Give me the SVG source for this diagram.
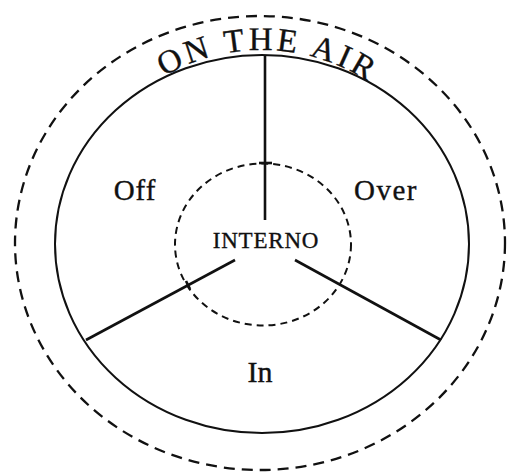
<svg xmlns="http://www.w3.org/2000/svg" width="507" height="473" viewBox="0 0 507 473">
<style>
.lbl{font-family:"Liberation Serif","Times New Roman",serif;fill:#111;stroke:#111;stroke-width:0.35;text-anchor:middle}
.solid{fill:none;stroke:#111;stroke-width:2}
.line{fill:none;stroke:#111;stroke-width:2.6;stroke-linecap:butt}
.dashO{fill:none;stroke:#111;stroke-width:2.3;stroke-dasharray:11 7}
.dashI{fill:none;stroke:#111;stroke-width:2;stroke-dasharray:7 5}
</style>
<defs>
<path id="arc" d="M 68 244 A 194 194 0 0 1 456 244"/>
</defs>
<rect width="507" height="473" fill="#fff"/>
<g id="on-the-air">
<ellipse class="dashO" cx="260" cy="243" rx="245" ry="227"/>
<text class="lbl" font-size="33" letter-spacing="3.5"><textPath href="#arc" startOffset="51%">ON THE AIR</textPath></text>
</g>
<g id="circle-main">
<ellipse class="solid" cx="262" cy="244" rx="207" ry="189"/>
</g>
<g id="interno">
<ellipse class="dashI" cx="263" cy="244.5" rx="88" ry="81"/>
<text class="lbl" x="266" y="248" font-size="23" letter-spacing="0.8">INTERNO</text>
</g>
<g id="connectors">
<line class="line" x1="265" y1="55" x2="265" y2="220"/>
<line class="line" x1="235" y1="260" x2="86" y2="340"/>
<line class="line" x1="295" y1="260" x2="441" y2="340"/>
<line class="line" x1="259" y1="163" x2="272" y2="163"/>
<line class="line" x1="186" y1="281" x2="190" y2="289"/>
</g>
<g id="off"><text class="lbl" x="135" y="200" font-size="29" letter-spacing="1">Off</text></g>
<g id="over"><text class="lbl" x="386" y="200" font-size="29" letter-spacing="1.5">Over</text></g>
<g id="in"><text class="lbl" x="260" y="382" font-size="30">In</text></g>
</svg>
